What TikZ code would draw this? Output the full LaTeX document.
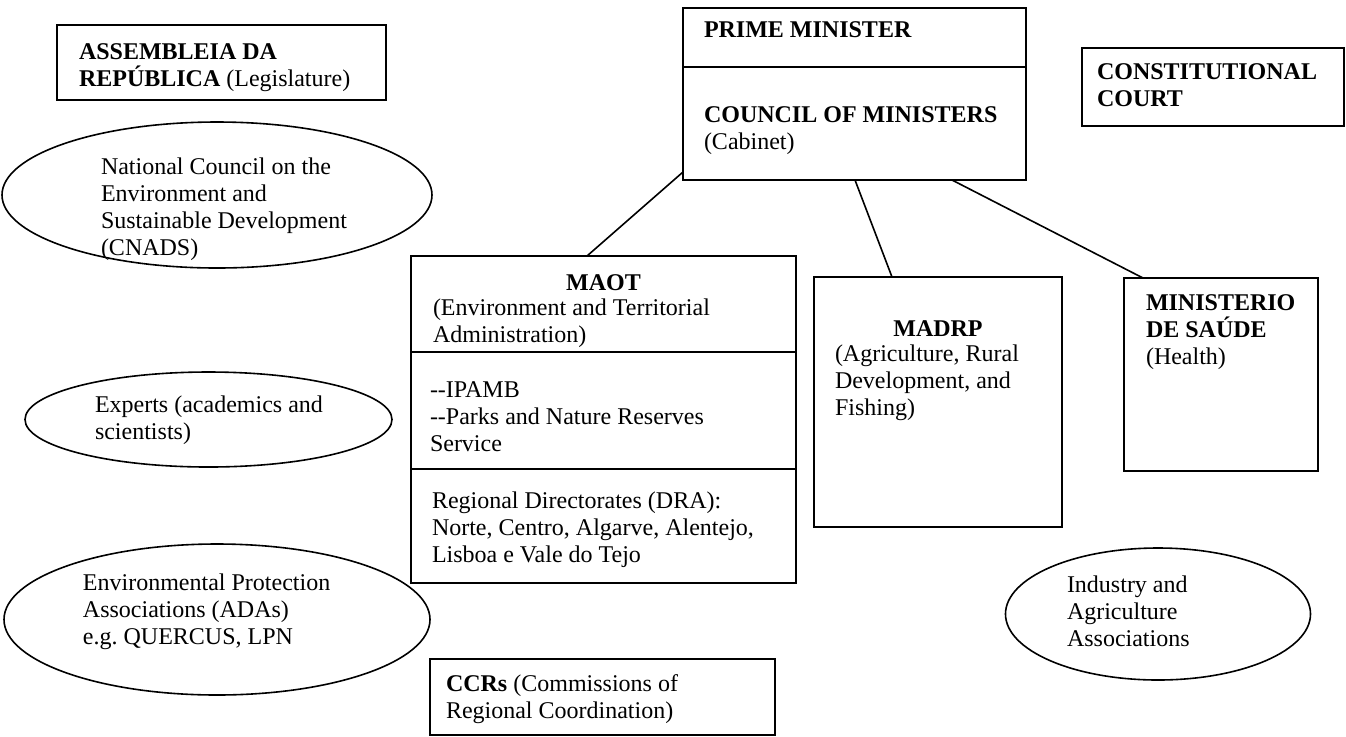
\documentclass[tikz,border=0pt]{standalone}
\usepackage{fontspec}
\setmainfont{Liberation Serif}
\usetikzlibrary{shapes.geometric}
\newcommand\dgfont{\fontsize{12}{13.5}\selectfont}
\tikzset{
  box/.style={draw, rectangle, anchor=north west, inner sep=0pt, outer sep=0pt},
  oval/.style={draw, ellipse, inner sep=0pt, outer sep=0pt},
  txt/.style={anchor=north west, inner sep=0pt, outer sep=0pt, align=left, font=\dgfont, execute at begin node=\strut},
  ctxt/.style={anchor=base, inner sep=0pt, outer sep=0pt, font=\dgfont\bfseries},
  link/.style={draw, line width=0.8pt}
}
\begin{document}
\begin{tikzpicture}[x=0.5pt, y=-0.5pt, line width=0.8pt]
\useasboundingbox (0,0) rectangle (1346,736);
\fill[white] (0,0) rectangle (1346,736);

% boxes
\node[box, minimum width=164.5pt, minimum height=37.5pt] (asm) at (57,25) {};
\node[box, minimum width=171.5pt, minimum height=86pt] (pm) at (683,8) {};
\node[box, minimum width=131pt, minimum height=39pt] (const) at (1082,48) {};
\node[box, minimum width=192.5pt, minimum height=163.5pt] (maot) at (411,256) {};
\node[box, minimum width=124pt, minimum height=125pt] (madrp) at (814,277) {};
\node[box, minimum width=97pt, minimum height=96.5pt] (min) at (1124,278) {};
\node[box, minimum width=172.5pt, minimum height=38pt] (ccr) at (430,659) {};

% dividers
\draw ([yshift=-29.5pt]pm.north west) -- ([yshift=-29.5pt]pm.north east);
\draw ([yshift=-48pt]maot.north west) -- ([yshift=-48pt]maot.north east);
\draw ([yshift=-106.5pt]maot.north west) -- ([yshift=-106.5pt]maot.north east);

% ellipses
\node[oval, minimum width=215pt, minimum height=73pt] (nceds) at (217,195) {};
\node[oval, minimum width=183.5pt, minimum height=47.5pt] (exp) at (208.5,419.5) {};
\node[oval, minimum width=213pt, minimum height=75.5pt] (epa) at (217,619.5) {};
\node[oval, minimum width=152.5pt, minimum height=66pt] (ind) at (1158,614) {};

% connectors
\draw[link] ([yshift=-82pt]pm.north west) -- ([xshift=88pt]maot.north west);
\draw[link] ([xshift=86pt]pm.south west) -- ([xshift=39pt]madrp.north west);
\draw[link] ([xshift=134.5pt]pm.south west) -- ([xshift=9.5pt]min.north west);

% texts
\node[txt] (asmT) at (79,44) {\textbf{ASSEMBLEIA DA}\\\textbf{REPÚBLICA} (Legislature)};
\node[txt] (ncedsT) at (101,158) {National Council on the\\Environment and\\Sustainable Development\\(CNADS)};
\node[txt] (pmT) at (704,19) {\textbf{PRIME MINISTER}};
\node[txt] (cmT) at (704,107) {\textbf{COUNCIL OF MINISTERS}\\(Cabinet)};
\node[txt] (constT) at (1097,64) {\textbf{CONSTITUTIONAL}\\\textbf{COURT}};
\node[ctxt] (maotH) at (603.5,290) {MAOT};
\node[txt] (maotT1) at (433,299) {(Environment and Territorial\\Administration)};
\node[txt] (maotT2) at (430,382) {\mbox{-}\mbox{-}IPAMB\\\mbox{-}\mbox{-}Parks and Nature Reserves\\Service};
\node[txt] (maotT3) at (432,492) {Regional Directorates (DRA):\\Norte, Centro, Algarve, Alentejo,\\Lisboa e Vale do Tejo};
\node[ctxt] (madrpH) at (938,336) {MADRP};
\node[txt] (madrpT) at (835,345) {(Agriculture, Rural\\Development, and\\Fishing)};
\node[txt] (minT) at (1146,295) {\textbf{MINISTERIO}\\\textbf{DE SAÚDE}\\(Health)};
\node[txt] (expT) at (95,396) {Experts (academics and\\scientists)};
\node[txt] (epaT) at (83,574) {Environmental Protection\\Associations (ADAs)\\e.g.\ QUERCUS, LPN};
\node[txt] (indT) at (1067,576) {Industry and\\Agriculture\\Associations};
\node[txt] (ccrT) at (446,675) {\textbf{CCRs} (Commissions of\\Regional Coordination)};
\end{tikzpicture}
\end{document}
